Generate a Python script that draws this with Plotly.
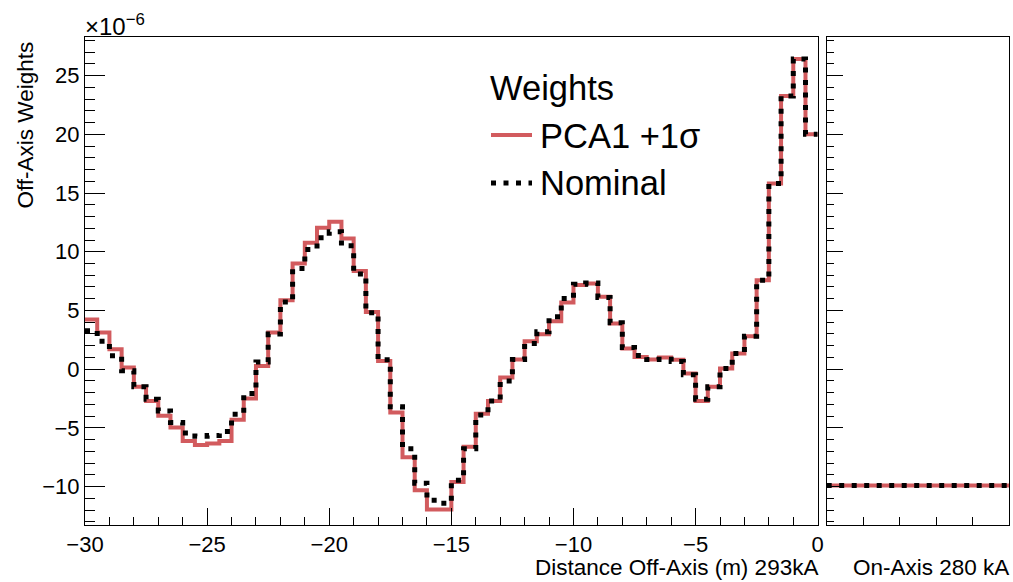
import numpy as np
import plotly.graph_objects as go

# ---------------- data (units of 1e-6) ----------------
bin_low_edge = -30.0
bin_width = 0.5

pca1_plus = [4.23, 3.12, 1.70, 0.14, -1.5, -2.7, -3.97, -4.97, -6.1, -6.45,
             -6.33, -6.1, -4.3, -2.5, 0.27, 3.12, 5.88, 9.0, 10.76, 12.04,
             12.55, 11.13, 8.37, 4.88, 0.7, -3.68, -7.5, -10.3, -11.95, -11.95,
             -9.6, -6.6, -3.8, -2.7, -0.71, 0.82, 2.38, 2.98, 4.09, 5.68,
             7.16, 7.3, 6.16, 3.89, 1.76, 1.05, 0.82, 1.0, 0.8, -0.37,
             -2.7, -1.5, 0.06, 1.34, 2.81, 7.58, 15.8, 23.25, 26.4, 20.0]

nominal = [3.27, 2.38, 1.14, -0.14, -1.5, -2.56, -3.55, -4.54, -5.42, -5.7,
           -5.65, -5.3, -3.83, -2.07, 0.62, 3.0, 5.73, 8.57, 10.2, 11.2,
           11.7, 10.5, 8.1, 4.8, 0.8, -3.2, -6.76, -9.7, -11.16, -11.4,
           -9.45, -6.76, -3.9, -2.7, -1.0, 0.82, 2.18, 3.18, 4.46, 6.02,
           7.24, 7.35, 6.1, 3.95, 1.85, 1.16, 0.82, 0.85, 0.65, -0.48,
           -2.55, -1.5, 0.06, 1.34, 2.81, 7.58, 15.8, 23.25, 26.4, 20.0]

on_axis_edges = [0.0, 1.0]
on_axis_pca1 = [-9.9]
on_axis_nominal = [-9.9]

y_range = [-13.26, 28.28]
x_range = [-30, 0]

# ---------------- helpers ----------------
def step_xy(lo, width, vals):
    edges = lo + width * np.arange(len(vals) + 1)
    return edges, list(vals) + [vals[-1]]

RED = "#d25b5e"
FONT = "Liberation Sans, Arial, Helvetica, sans-serif"
TICKF = 22
TITLEF = 22.5
LEG = 34.5

fig = go.Figure()

ex, ey = step_xy(bin_low_edge, bin_width, pca1_plus)
fig.add_trace(go.Scatter(x=ex, y=ey, mode="lines", line=dict(color=RED, width=4, shape="hv"),
                         name="PCA1 +1σ", showlegend=False, xaxis="x", yaxis="y"))
ex, ey = step_xy(bin_low_edge, bin_width, nominal)
fig.add_trace(go.Scatter(x=ex, y=ey, mode="lines",
                         line=dict(color="black", width=5, shape="hv", dash="5px,7.5px"),
                         name="Nominal", showlegend=False, xaxis="x", yaxis="y"))

fig.add_trace(go.Scatter(x=on_axis_edges, y=on_axis_pca1 + on_axis_pca1[-1:], mode="lines",
                         line=dict(color=RED, width=4, shape="hv"), showlegend=False,
                         xaxis="x2", yaxis="y2"))
fig.add_trace(go.Scatter(x=on_axis_edges, y=on_axis_nominal + on_axis_nominal[-1:], mode="lines",
                         line=dict(color="black", width=5, shape="hv", dash="5px,7.5px"),
                         showlegend=False, xaxis="x2", yaxis="y2"))

W, H = 1013, 582
ML, MR, MT, MB = 85, 4, 37, 57
PW, PH = W - ML - MR, H - MT - MB

def px(x):
    return (x - ML) / PW

def py(y):
    return (H - MB - y) / PH

left_end = px(817.7)
right_start = px(826.7)

axis_common = dict(showline=True, mirror=True, linecolor="black", linewidth=1,
                   showgrid=False, zeroline=False, ticks="inside", tickcolor="black",
                   tickwidth=1, automargin=False)

fig.update_layout(
    width=W, height=H, margin=dict(l=ML, r=MR, t=MT, b=MB),
    plot_bgcolor="white", paper_bgcolor="white",
    font=dict(family=FONT, color="black"),
    xaxis=dict(domain=[0, left_end], range=x_range, dtick=5, tick0=0, ticklen=17,
               tickfont=dict(size=TICKF),
               minor=dict(ticks="inside", ticklen=8, dtick=1, tickcolor="black"),
               anchor="y", **axis_common),
    yaxis=dict(range=y_range, dtick=5, tick0=0, ticklen=20, tickfont=dict(size=TICKF),
               minor=dict(ticks="inside", ticklen=10, dtick=1, tickcolor="black"),
               anchor="x", **axis_common),
    xaxis2=dict(domain=[right_start, 1], range=[0, 1], tickvals=[0.2, 0.4, 0.6, 0.8],
                ticklen=8, showticklabels=False, anchor="y2", **axis_common),
    yaxis2=dict(range=y_range, dtick=5, tick0=0, ticklen=16, showticklabels=False,
                minor=dict(ticks="inside", ticklen=7, dtick=1, tickcolor="black"),
                anchor="x2", **axis_common),
)

ann = []
ann.append(dict(text="×10<sup>−6</sup>", xref="paper", yref="paper", x=0, y=1,
                xanchor="left", yanchor="bottom", yshift=-5, xshift=-2, showarrow=False,
                font=dict(size=24)))
ann.append(dict(text="Off-Axis Weights", xref="paper", yref="paper", x=px(25), y=py(40),
                xanchor="center", yanchor="top", textangle=-90, showarrow=False,
                font=dict(size=TITLEF)))
ann.append(dict(text="Distance Off-Axis (m) 293kA", xref="paper", yref="paper",
                x=left_end, y=py(567), xanchor="right", yanchor="middle", xshift=2,
                showarrow=False, font=dict(size=TITLEF)))
ann.append(dict(text="On-Axis 280 kA", xref="paper", yref="paper", x=px(1009), y=py(567),
                xanchor="right", yanchor="middle", xshift=2, showarrow=False,
                font=dict(size=TITLEF)))
# legend
ann.append(dict(text="Weights", xref="paper", yref="paper", x=px(488), y=py(88),
                xanchor="left", yanchor="middle", showarrow=False, font=dict(size=LEG)))
ann.append(dict(text="PCA1 +1σ", xref="paper", yref="paper", x=px(538), y=py(136),
                xanchor="left", yanchor="middle", showarrow=False, font=dict(size=LEG)))
ann.append(dict(text="Nominal", xref="paper", yref="paper", x=px(538), y=py(183),
                xanchor="left", yanchor="middle", showarrow=False, font=dict(size=LEG)))
fig.update_layout(annotations=ann)

fig.add_shape(type="line", xref="paper", yref="paper", x0=px(491), x1=px(532),
              y0=py(135), y1=py(135), line=dict(color=RED, width=4))
fig.add_shape(type="line", xref="paper", yref="paper", x0=px(491), x1=px(532),
              y0=py(183), y1=py(183), line=dict(color="black", width=5, dash="5px,7.5px"))

fig.write_html("out.html")
